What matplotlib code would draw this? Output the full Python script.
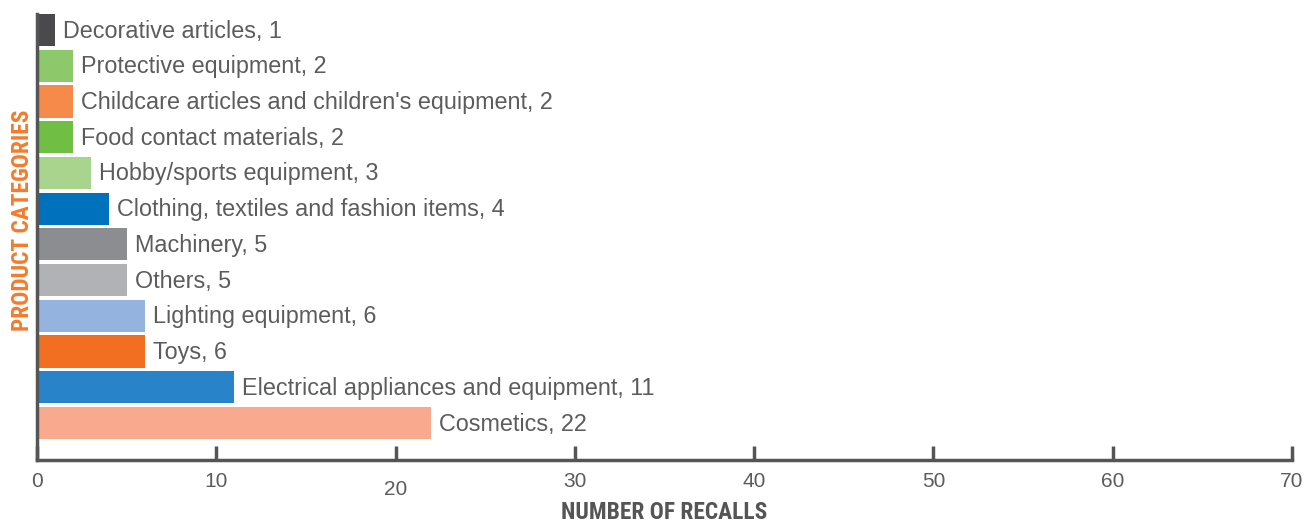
import matplotlib.pyplot as plt
import matplotlib.transforms as mtransforms

# product categories, top to bottom in the picture
categories = ["Decorative articles", "Protective equipment",
              "Childcare articles and children's equipment", "Food contact materials",
              "Hobby/sports equipment", "Clothing, textiles and fashion items",
              "Machinery", "Others", "Lighting equipment", "Toys",
              "Electrical appliances and equipment", "Cosmetics"]
recalls = [1, 2, 2, 2, 3, 4, 5, 5, 6, 6, 11, 22]
bar_colors = ["#4a4a4c", "#8dc86a", "#f58a4a", "#70bf44", "#a9d48d", "#0071bc",
              "#8c8d91", "#b1b2b5", "#95b3df", "#f26f21", "#2983c8", "#f8a98e"]
x_ticks = [0, 10, 20, 30, 40, 50, 60, 70]

grey = "#555555"
body_font = ["Liberation Sans", "DejaVu Sans"]
title_font = ["Liberation Sans Narrow", "DejaVu Sans Condensed", "Roboto Condensed", "Roboto"]

fig = plt.figure(figsize=(13.16, 5.22), dpi=100)
ax = fig.add_axes([0.0281, 0.1188, 0.9537, 0.8544])

n = len(categories)
ypos = [n - 1 - i for i in range(n)]
ax.barh(ypos, recalls, height=0.9, color=bar_colors, zorder=2)

for y, name, v in zip(ypos, categories, recalls):
    ax.text(v + 0.45, y - 0.03, f"{name}, {v}", va="center", ha="left",
            fontsize=16.8, color="#5c5c5c", family=body_font)

ax.set_xlim(0, 70)
ax.set_ylim(-1.035, n - 1 + 0.448)
ax.set_yticks([])
ax.set_xticks(x_ticks)
ax.set_xticklabels([str(t) for t in x_ticks], fontsize=15, color="#5c5c5c",
                   family=body_font)
ax.tick_params(axis="x", direction="in", length=10, width=2.5, color=grey, pad=9)

# the "20" label sits a little lower in the original
lab20 = ax.get_xticklabels()[2]
lab20.set_transform(lab20.get_transform() +
                    mtransforms.ScaledTranslation(0, -8 / 100, fig.dpi_scale_trans))

for side in ["top", "right"]:
    ax.spines[side].set_visible(False)
for side in ["left", "bottom"]:
    ax.spines[side].set_color(grey)
    ax.spines[side].set_linewidth(2.5)

ax.set_xlabel("NUMBER OF RECALLS", fontsize=16.8, fontweight="bold", color=grey,
              family=title_font, va="center")
ax.xaxis.set_label_coords(0.5, -0.117)
ax.set_ylabel("PRODUCT CATEGORIES", fontsize=16.8, fontweight="bold", color="#f47b2a",
              family=title_font, va="center")
ax.yaxis.set_label_coords(-0.0115, 0.538)

fig.savefig("out.png", dpi=100)
